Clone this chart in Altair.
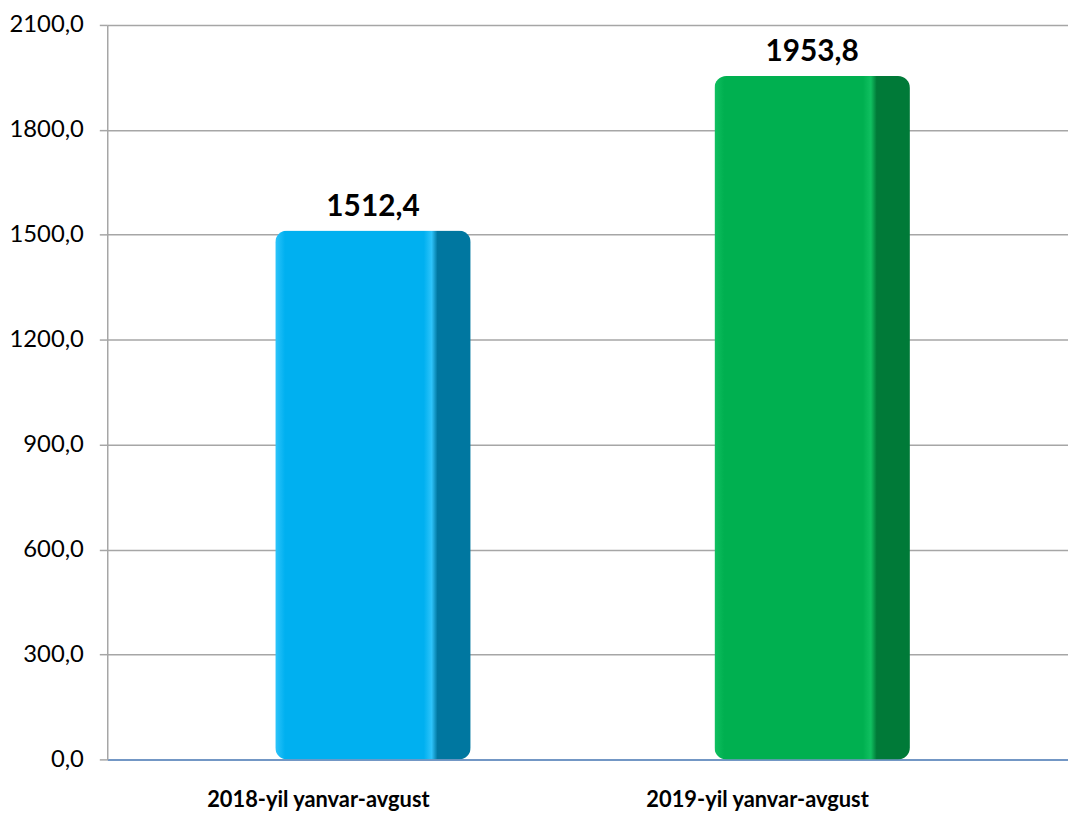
import altair as alt
import pandas as pd

categories = ["2018-yil yanvar-avgust", "2019-yil yanvar-avgust"]
values = [1512.4, 1953.8]
labels = ["1512,4", "1953,8"]
colors = ["#00B0F0", "#00B050"]
dark_colors = ["#0077A0", "#007A38"]
light_colors = ["#2EC4FA", "#10C060"]
y_ticks = [0, 300, 600, 900, 1200, 1500, 1800, 2100]

df = pd.DataFrame({"cat": categories, "val": values, "label": labels})

x_enc = alt.X("cat:N", sort=categories,
              scale=alt.Scale(paddingInner=0, paddingOuter=0.0938),
              axis=alt.Axis(title=None, labelAngle=0, labelFontSize=22, labelFontWeight="bold",
                            labelFont="Lato", labelColor="#000000", labelPadding=30, labelLimit=0,
                            labelOffset=-50,
                            domainColor="#5B8BC9", domainWidth=1.5, ticks=False))
y_enc = alt.Y("val:Q", scale=alt.Scale(domain=[0, 2100], nice=False),
              axis=alt.Axis(title=None, values=y_ticks, labelFontSize=24, labelFont="Lato",
                            labelColor="#000000", labelExpr="replace(format(datum.value, '.1f'), '.', ',')",
                            gridColor="#A6A6A6", gridWidth=1.5, domainColor="#A6A6A6", domainWidth=1.5,
                            tickColor="#A6A6A6", tickWidth=1.5, tickSize=8, labelPadding=16))

layers = []
for i, c in enumerate(categories):
    grad = alt.Gradient(gradient="linear", x1=0, x2=1, y1=0, y2=0,
                        stops=[alt.GradientStop(offset=0, color=light_colors[i]),
                               alt.GradientStop(offset=0.05, color=colors[i]),
                               alt.GradientStop(offset=0.76, color=colors[i]),
                               alt.GradientStop(offset=0.8, color=light_colors[i]),
                               alt.GradientStop(offset=0.83, color=dark_colors[i]),
                               alt.GradientStop(offset=1, color=dark_colors[i])])
    layers.append(
        alt.Chart(df).transform_filter(alt.datum.cat == c)
        .mark_bar(fill=grad, size=197, cornerRadius=12, xOffset=5)
        .encode(x=x_enc, y=y_enc)
    )

text = alt.Chart(df).mark_text(dy=-24, xOffset=5, fontSize=30, fontWeight="bold", font="Lato",
                               color="#000000").encode(
    x=alt.X("cat:N", sort=categories), y=alt.Y("val:Q"), text="label:N")

chart = alt.layer(*layers, text).properties(
    width=968, height=740,
    autosize=alt.AutoSizeParams(type="none"),
    padding={"left": 100, "top": 14, "right": 0, "bottom": 60},
).configure_view(stroke=None)

chart.save("out.html", embed_options={"renderer": "svg", "actions": False})
